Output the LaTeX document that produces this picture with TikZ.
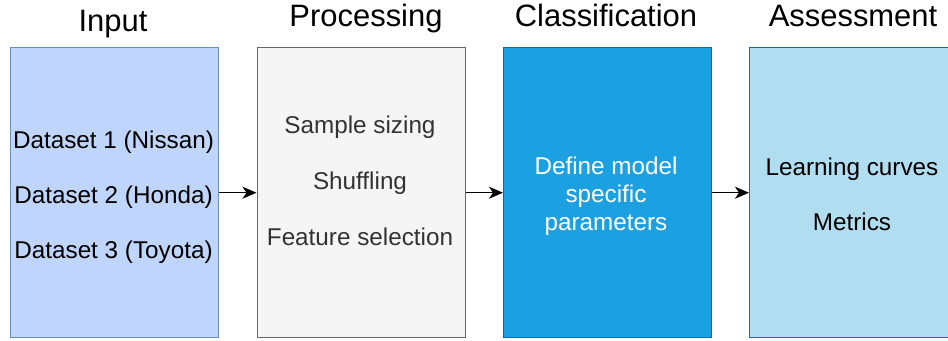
\documentclass[tikz,border=0pt]{standalone}
\usepackage{fontspec}
\setmainfont{Liberation Sans}
\usetikzlibrary{arrows.meta}

\definecolor{inFill}{HTML}{C0D5FB}
\definecolor{inLine}{HTML}{6C8EBF}
\definecolor{prFill}{HTML}{F5F5F5}
\definecolor{prLine}{HTML}{666666}
\definecolor{prText}{HTML}{333333}
\definecolor{clFill}{HTML}{1BA1E2}
\definecolor{clLine}{HTML}{006EAF}
\definecolor{asFill}{HTML}{B1DDF0}
\definecolor{asLine}{HTML}{10739E}

\begin{document}
\begin{tikzpicture}[x=0.75pt,y=-0.75pt,
  stage/.style={draw, line width=1.1pt, rectangle, anchor=north west,
    minimum width=156pt, minimum height=217.5pt, inner sep=0pt},
  title/.style={font=\fontsize{23.2pt}{27pt}\selectfont, anchor=base, inner sep=0pt},
  body/.style={font=\fontsize{18.2pt}{21pt}\selectfont, anchor=center,
    text height=13.0pt, text depth=0pt, inner sep=0pt},
  flow/.style={-{Stealth[length=10.5pt,width=9pt,inset=3pt]}, line width=1.1pt}]

\useasboundingbox (0,0) rectangle (948,341);
\fill[white] (0,0) rectangle (948,341);

% stage boxes
\node[stage, fill=inFill, draw=inLine] (input) at (10,47) {};
\node[stage, fill=prFill, draw=prLine] (proc)  at (256.5,47) {};
\node[stage, fill=clFill, draw=clLine] (class) at (503,47) {};
\node[stage, fill=asFill, draw=asLine] (assess) at (749,47) {};

% stage titles
\node[title] (tInput)  at (113,32) {Input};
\node[title] (tProc)   at (366,27) {Processing};
\node[title] (tClass)  at (606,27) {Classification};
\node[title] (tAssess) at (853,27) {Assessment};

% box contents
\node[body] (d1) at (113.5,140) {Dataset 1 (Nissan)};
\node[body] (d2) at (113.5,195) {Dataset 2 (Honda)};
\node[body] (d3) at (113.5,250) {Dataset 3 (Toyota)};

\node[body, text=prText] (p1) at (360,125) {Sample sizing};
\node[body, text=prText] (p2) at (360,181) {Shuffling};
\node[body, text=prText] (p3) at (360,237) {Feature selection};

\node[body, text=white] (c1) at (606,166) {Define model};
\node[body, text=white] (c2) at (606,194) {specific};
\node[body, text=white] (c3) at (606,222) {parameters};

\node[body] (a1) at (852,166.5) {Learning curves};
\node[body] (a2) at (852,222) {Metrics};

% connectors
\draw[flow] (input.east) -- (proc.west);
\draw[flow] (proc.east) -- (class.west);
\draw[flow] (class.east) -- (assess.west);
\end{tikzpicture}
\end{document}
